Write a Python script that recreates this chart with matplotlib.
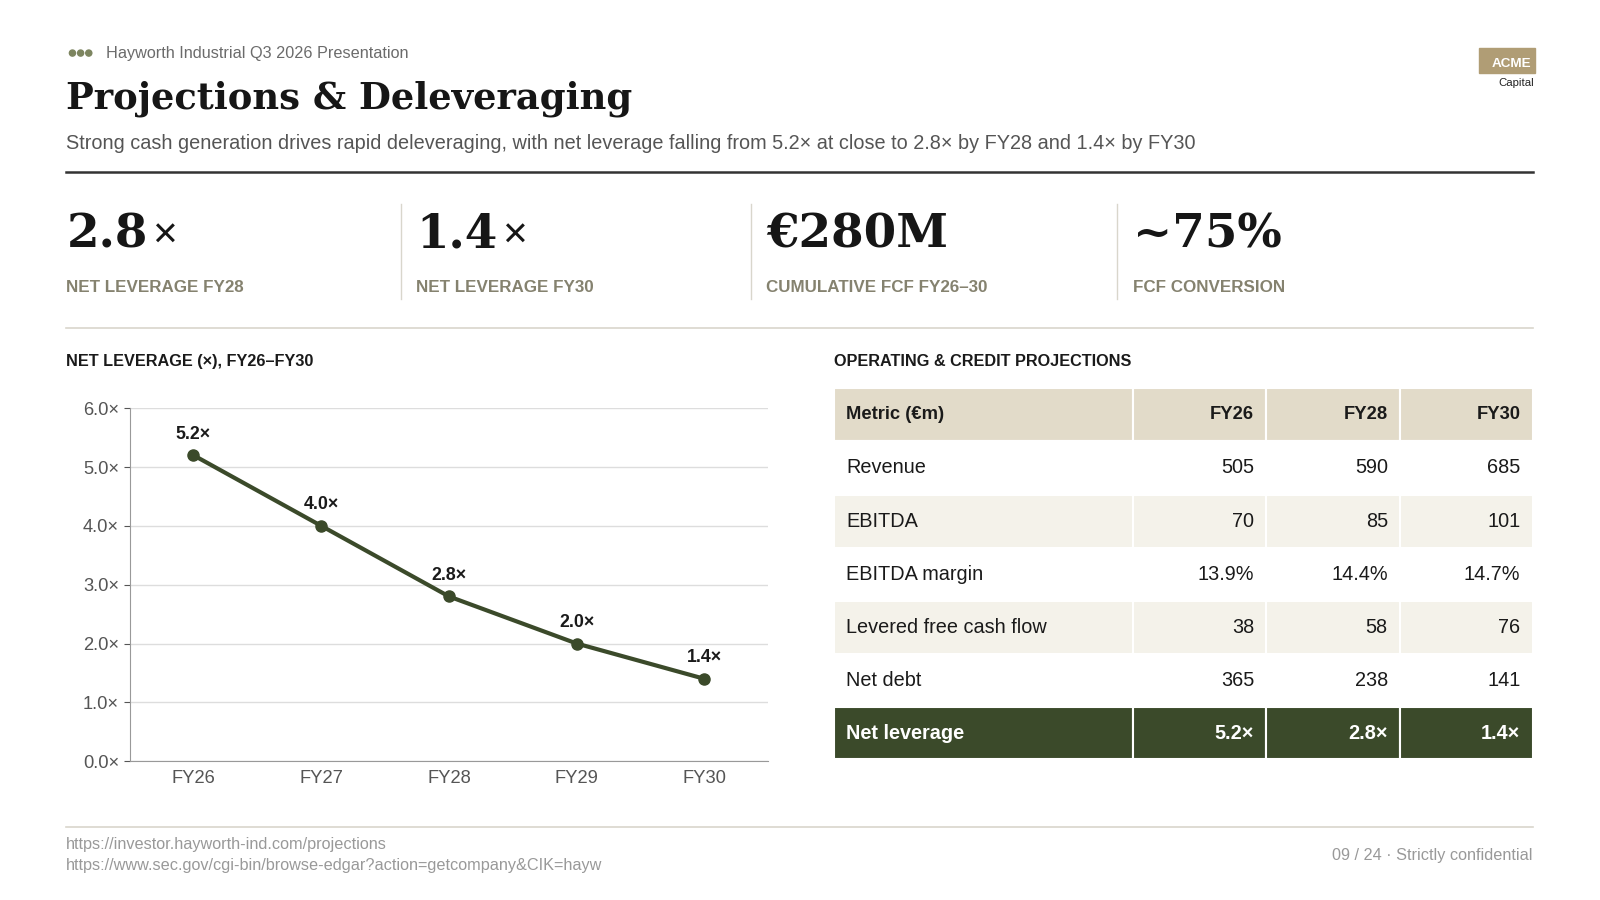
import matplotlib
matplotlib.use("Agg")
import matplotlib.pyplot as plt
from matplotlib.patches import Rectangle

years = ["FY26", "FY27", "FY28", "FY29", "FY30"]
leverage = [5.2, 4.0, 2.8, 2.0, 1.4]
y_ticks = [0, 1, 2, 3, 4, 5, 6]

kpi_values = ["2.8", "1.4", "€280M", "~75%"]
kpi_suffix = ["×", "×", "", ""]
kpi_labels = ["NET LEVERAGE FY28", "NET LEVERAGE FY30", "CUMULATIVE FCF FY26–30", "FCF CONVERSION"]

table_cols = ["Metric (€m)", "FY26", "FY28", "FY30"]
table_rows = [
    ["Revenue", "505", "590", "685"],
    ["EBITDA", "70", "85", "101"],
    ["EBITDA margin", "13.9%", "14.4%", "14.7%"],
    ["Levered free cash flow", "38", "58", "76"],
    ["Net debt", "365", "238", "141"],
    ["Net leverage", "5.2×", "2.8×", "1.4×"],
]

DARK = "#3b4a2a"
GREY = "#6b6b6b"
KPI_GREY = "#85826f"
SERIF = ["DejaVu Serif"]
plt.rcParams["font.family"] = ["Liberation Sans", "DejaVu Sans"]

# layout is measured on a 1568 x 882 grid, then scaled to 1600 x 900
W, H = 1568, 882
K = 1600 / W
fig = plt.figure(figsize=(16, 9), dpi=100)
bg = fig.add_axes([0, 0, 1, 1])
bg.set_xlim(0, W)
bg.set_ylim(H, 0)
bg.axis("off")

# header
for i in range(3):
    bg.add_patch(plt.Circle((71 + i * 8, 52), 3, color="#7d8560"))
bg.text(104, 52, "Hayworth Industrial Q3 2026 Presentation", fontsize=11.5 * K, color=GREY, va="center")
bg.text(65, 97, "Projections & Deleveraging", fontsize=26 * K, fontweight="bold", family=SERIF, color="#161616", va="center")
bg.text(65, 141, "Strong cash generation drives rapid deleveraging, with net leverage falling from 5.2× at close to 2.8× by FY28 and 1.4× by FY30",
        fontsize=14 * K, color="#555555", va="center")
bg.plot([65, 1502], [169, 169], color="#333333", lw=1.8)

# logo
bg.add_patch(Rectangle((1449, 47), 55, 25, color="#b09d75"))
bg.text(1501, 63, "ACME", fontsize=9.5 * K, color="white", ha="right", va="center", fontweight="bold")
bg.text(1503, 81, "Capital", fontsize=8 * K, color="#222222", ha="right", va="center")

# KPIs
kx = [65, 408, 751, 1110]
for i, x in enumerate(kx):
    if i > 0:
        bg.plot([x - 15, x - 15], [200, 293], color="#d9d6cc", lw=1)
    t = bg.text(x, 230, kpi_values[i], fontsize=33 * K, fontweight="bold", family=SERIF, color="#161616", va="center")
    if kpi_suffix[i]:
        fig.canvas.draw()
        bb = t.get_window_extent().transformed(bg.transData.inverted())
        bg.text(bb.x1 + 4, 232, kpi_suffix[i], fontsize=30 * K, color="#161616", va="center")
    bg.text(x, 282, kpi_labels[i], fontsize=12 * K, fontweight="bold", color=KPI_GREY, va="center")
bg.plot([65, 1502], [321, 321], color="#d9d6cc", lw=1.2)

# chart
bg.text(65, 354, "NET LEVERAGE (×), FY26–FY30", fontsize=11.5 * K, fontweight="bold", color="#1a1a1a", va="center")
ax = fig.add_axes([127 / W, 1 - 746 / H, (753 - 127) / W, (746 - 400) / H])
ax.plot(range(len(years)), leverage, color=DARK, lw=3, marker="o", ms=8, zorder=3)
for i, v in enumerate(leverage):
    ax.annotate(f"{v:.1f}×", (i, v), xytext=(0, 9), textcoords="offset points",
                ha="center", va="bottom", fontsize=12.5 * K, fontweight="bold", color="#1a1a1a")
ax.set_ylim(0, 6)
ax.set_xlim(-0.5, 4.5)
ax.set_yticks(y_ticks)
ax.set_yticklabels([f"{t:.1f}×" for t in y_ticks])
ax.set_xticks(range(len(years)))
ax.set_xticklabels(years)
ax.tick_params(labelsize=13 * K, colors="#555555", length=4)
ax.tick_params(axis="x", length=0, pad=6)
ax.grid(axis="y", color="#dddddd", lw=1)
ax.set_axisbelow(True)
for s in ["top", "right"]:
    ax.spines[s].set_visible(False)
for s in ["left", "bottom"]:
    ax.spines[s].set_color("#999999")

# table
bg.text(817, 354, "OPERATING & CREDIT PROJECTIONS", fontsize=11.5 * K, fontweight="bold", color="#1a1a1a", va="center")
col_x = [817, 1110, 1241, 1372, 1502]
row_y = [380, 432, 485, 537, 589, 641, 693, 744]
all_rows = [table_cols] + table_rows
for r, row in enumerate(all_rows):
    y0, y1 = row_y[r], row_y[r + 1]
    last = r == len(all_rows) - 1
    if r == 0:
        fill = "#e2dbc9"
    elif last:
        fill = DARK
    elif r % 2 == 0:
        fill = "#f4f2ea"
    else:
        fill = "white"
    color = "white" if last else "#1a1a1a"
    weight = "bold" if (r == 0 or last) else "normal"
    fs = (14 if r else 13) * K
    for c, txt in enumerate(row):
        x0, x1 = col_x[c], col_x[c + 1]
        bg.add_patch(Rectangle((x0, y0), x1 - x0, y1 - y0, facecolor=fill, edgecolor="white", lw=1.5))
        if c == 0:
            bg.text(x0 + 12, (y0 + y1) / 2, txt, fontsize=fs, color=color, fontweight=weight, va="center")
        else:
            bg.text(x1 - 12, (y0 + y1) / 2, txt, fontsize=fs, color=color, fontweight=weight, va="center", ha="right")

# footer
bg.plot([65, 1502], [810, 810], color="#d9d6cc", lw=1.2)
bg.text(65, 828, "https://investor.hayworth-ind.com/projections", fontsize=11.5 * K, color="#999999", va="center")
bg.text(65, 848, "https://www.sec.gov/cgi-bin/browse-edgar?action=getcompany&CIK=hayw", fontsize=11.5 * K, color="#999999", va="center")
bg.text(1502, 838, "09 / 24 · Strictly confidential", fontsize=11.5 * K, color="#999999", va="center", ha="right")

fig.savefig("out.png", dpi=100)
plt.close(fig)
